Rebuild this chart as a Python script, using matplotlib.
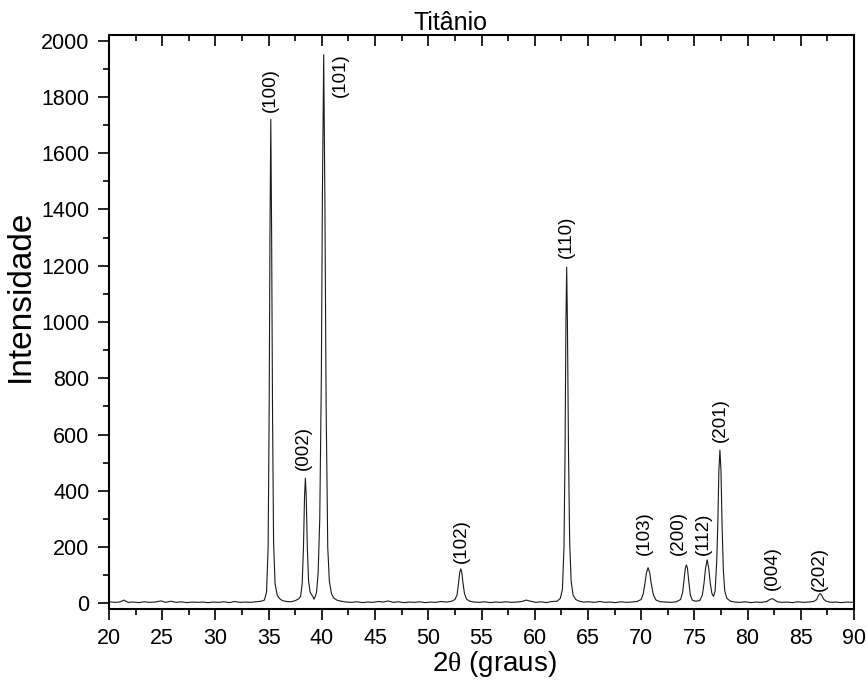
import numpy as np
import matplotlib
matplotlib.use('Agg')
from matplotlib import pyplot as plt
from matplotlib.ticker import MultipleLocator

plt.rcParams['font.family'] = ['Liberation Sans', 'DejaVu Sans']
plt.rcParams['mathtext.fontset'] = 'custom'
plt.rcParams['mathtext.rm'] = 'Liberation Serif'

# diffractogram: 2theta (deg) and counts
two_theta = [
    20.0, 20.5, 21.0, 21.4, 21.8, 22.3, 22.8, 23.3, 23.8, 24.3, 24.9, 25.3,
    25.8, 26.3, 26.8, 27.3, 27.8, 28.3, 28.8, 29.3, 29.8, 30.3, 30.8, 31.3,
    31.8, 32.3, 32.8, 33.3, 33.8, 34.3,
    34.6, 34.8, 34.95, 35.05, 35.12, 35.2, 35.28, 35.36, 35.46, 35.6, 35.8,
    36.0, 36.3, 36.7, 37.1, 37.5, 37.8,
    38.0, 38.15, 38.27, 38.37, 38.45, 38.53, 38.63, 38.75, 38.9, 39.05, 39.15,
    39.25, 39.35, 39.5, 39.65,
    39.8, 39.95, 40.05, 40.17, 40.28, 40.4, 40.55, 40.7, 40.9, 41.1, 41.4, 41.8,
    42.3, 42.8, 43.3, 43.8, 44.3, 44.8, 45.3, 45.8, 46.2, 46.7, 47.2, 47.7,
    48.2, 48.7, 49.2, 49.7, 50.2, 50.7, 51.2, 51.7, 52.2, 52.5,
    52.7, 52.85, 52.95, 53.05, 53.15, 53.25, 53.4, 53.6, 53.9,
    54.3, 54.8, 55.3, 55.8, 56.3, 56.8, 57.3, 57.8, 58.3, 58.8, 59.2, 59.6,
    60.1, 60.6, 61.1, 61.6, 62.1, 62.4,
    62.6, 62.75, 62.85, 62.93, 63.0, 63.07, 63.17, 63.28, 63.42, 63.6, 63.85, 64.2,
    64.6, 65.1, 65.6, 66.1, 66.6, 67.1, 67.6, 68.1, 68.6, 69.1, 69.6, 70.0,
    70.2, 70.35, 70.5, 70.65, 70.8, 70.95, 71.15, 71.4, 71.8,
    72.3, 72.8, 73.3, 73.7,
    73.9, 74.05, 74.15, 74.25, 74.35, 74.47, 74.62, 74.8, 75.1, 75.5, 75.75,
    75.9, 76.05, 76.2, 76.35, 76.5, 76.65, 76.8, 76.95, 77.1,
    77.2, 77.3, 77.4, 77.5, 77.6, 77.72, 77.85, 78.05, 78.4,
    78.8, 79.3, 79.8, 80.3, 80.8, 81.3, 81.8,
    82.0, 82.2, 82.35, 82.55, 82.8,
    83.2, 83.7, 84.2, 84.7, 85.2, 85.7, 86.2, 86.5,
    86.65, 86.8, 86.95, 87.15, 87.4,
    87.8, 88.3, 88.8, 89.3, 89.8, 90.0,
]
intensity = [
    6, 4, 5, 12, 4, 5, 3, 6, 4, 5, 9, 4,
    8, 4, 6, 3, 5, 4, 5, 3, 5, 4, 6, 3,
    7, 4, 5, 4, 6, 8,
    12, 40, 200, 700, 1300, 1720, 1300, 700, 220, 70, 30,
    18, 10, 7, 6, 10, 16,
    25, 70, 200, 380, 445, 380, 200, 80, 40, 30, 25,
    15, 22, 40, 110,
    300, 800, 1450, 1950, 1450, 700, 200, 80, 35, 20, 12, 8,
    5, 4, 6, 3, 5, 4, 7, 5, 9, 4, 6, 3,
    5, 4, 6, 3, 5, 4, 7, 5, 8, 14,
    30, 75, 110, 123, 110, 75, 35, 15, 8,
    5, 4, 6, 3, 5, 4, 6, 4, 5, 7, 12, 8,
    4, 6, 3, 7, 8, 18,
    50, 200, 550, 1000, 1195, 1000, 550, 220, 80, 30, 14, 8,
    5, 6, 4, 7, 4, 5, 3, 6, 4, 5, 7, 14,
    35, 70, 110, 127, 110, 70, 30, 12, 6,
    5, 4, 6, 14,
    40, 90, 125, 137, 125, 80, 30, 12, 8, 10, 30,
    70, 125, 155, 125, 70, 35, 25, 45, 150,
    280, 470, 545, 470, 280, 120, 45, 18, 8,
    5, 4, 6, 3, 5, 4, 7,
    12, 16, 17, 12, 6,
    4, 5, 3, 6, 4, 5, 7, 14,
    28, 35, 30, 15, 8,
    4, 5, 3, 5, 4, 5,
]

# Miller indices and where their labels sit (2theta, counts at label foot)
hkl = ['(100)', '(002)', '(101)', '(102)', '(110)', '(103)',
       '(200)', '(112)', '(201)', '(004)', '(202)']
label_x = [35.2, 38.3, 41.7, 53.07, 63.0, 70.3, 73.45, 75.8, 77.4, 82.3, 86.7]
label_y = [1747, 475, 1800, 145, 1228, 172, 172, 172, 575, 49, 46]

fig = plt.figure(figsize=(8.68, 6.8), dpi=100)
ax = fig.add_axes([0.1256, 0.1051, 0.8583, 0.8434])

ax.plot(two_theta, intensity, color='#1a1a1a', linewidth=0.8)

for lab, lx, ly in zip(hkl, label_x, label_y):
    ax.text(lx, ly, lab, rotation=90, ha='center', va='bottom', fontsize=13.5)

ax.set_xlim(20, 90)
ax.set_ylim(-18, 2020)
ax.xaxis.set_major_locator(MultipleLocator(5))
ax.xaxis.set_minor_locator(MultipleLocator(2.5))
ax.yaxis.set_major_locator(MultipleLocator(200))
ax.yaxis.set_minor_locator(MultipleLocator(100))

ax.tick_params(which='both', direction='out', width=1.2, labelsize=15.5,
               top=True, right=False)
ax.tick_params(which='major', length=8)
ax.tick_params(which='minor', length=4.5)
ax.tick_params(axis='x', which='both', top=True, labeltop=False, pad=6)
ax.tick_params(axis='y', pad=6)
# top ticks point into the plot
for t in ax.xaxis.get_major_ticks() + ax.xaxis.get_minor_ticks():
    t.tick2line.set_marker(matplotlib.lines.TICKDOWN)

for sp in ax.spines.values():
    sp.set_linewidth(1.5)

ax.set_xlabel(r'2$\mathrm{\theta}$ (graus)', fontsize=20, labelpad=0, x=0.517)
ax.set_ylabel('Intensidade', fontsize=24, labelpad=4, y=0.546)
ax.set_title('Titânio', fontsize=18, x=0.458, pad=2)

fig.savefig('out.png', dpi=100)
